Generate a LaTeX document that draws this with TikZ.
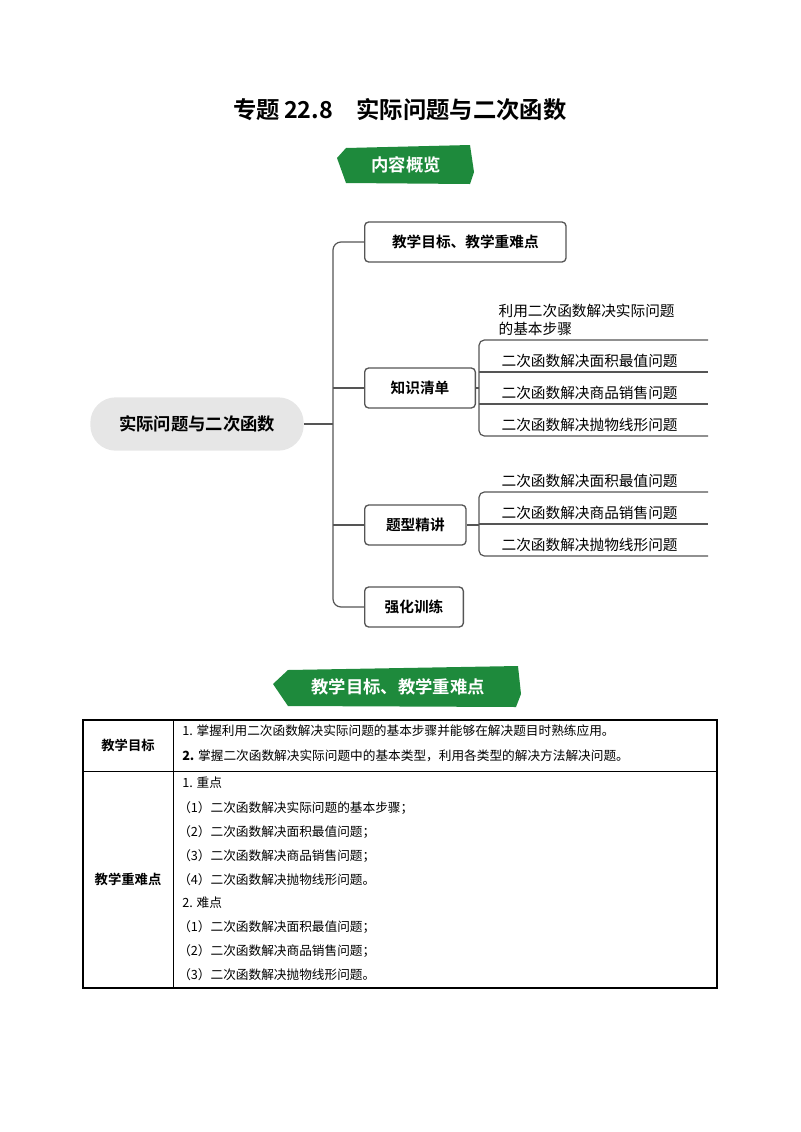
\documentclass[tikz,border=0pt]{standalone}
\usepackage{fontspec}
\setmainfont{Noto Sans CJK SC}
\newfontfamily\cjkb{Noto Sans CJK SC Bold}
\definecolor{bgreen}{HTML}{1E8A3C}
\definecolor{cgray}{HTML}{E6E6E6}
\definecolor{lgray}{HTML}{555555}
\begin{document}
\begin{tikzpicture}[x=0.75pt,y=-0.75pt,
  br/.style={draw=lgray,line width=1pt,rounded corners=3pt,minimum height=30pt,font=\cjkb\fontsize{11}{13}\selectfont,anchor=west,inner xsep=10pt},
  leaf/.style={font=\fontsize{11}{13}\selectfont,anchor=south west,inner sep=1pt},
  ln/.style={draw=lgray,line width=0.9pt},
  tx/.style={font=\fontsize{9.5}{11}\selectfont,anchor=west,inner sep=0pt},
  ban/.style={fill=bgreen},
  bt/.style={text=white,font=\cjkb\fontsize{13}{15}\selectfont}]
\useasboundingbox (0,0) rectangle (800,1132);
\node[font=\cjkb\fontsize{17.5}{20}\selectfont] (title) at (400,110) {专题\,22.8\quad 实际问题与二次函数};
% banner 1
\fill[ban] (346,148) -- (470,145) -- (474,172) -- (470,184) -- (346,183) -- (337,158) -- cycle;
\node[bt] (b1) at (406,165) {内容概览};
% mind map
\node[fill=cgray,rounded corners=19pt,minimum width=160pt,minimum height=40pt,font=\cjkb\fontsize{13}{15}\selectfont] (c) at (197,424) {实际问题与二次函数};
\node[br,minimum width=151pt] (m1) at (364,242) {教学目标、教学重难点};
\node[br,minimum width=83pt] (m2) at (364,388) {知识清单};
\node[br,minimum width=76pt] (m3) at (364,525) {题型精讲};
\node[br,minimum width=74pt] (m4) at (364,607) {强化训练};
\coordinate (j) at (333,424);
\draw[ln] (c.east) -- (j);
\draw[ln,rounded corners=6pt] (m1.west) -| (j) |- (m4.west);
\draw[ln] (333,388) -- (m2.west);
\draw[ln] (333,525) -- (m3.west);
% leaves of m2
\coordinate (k) at (479,388);
\draw[ln] (m2.east) -- (k);
\draw[ln,rounded corners=4pt] (708,340) -- (479,340) -- (479,436) -- (708,436);
\draw[ln] (479,372) -- (708,372);
\draw[ln] (479,404) -- (708,404);
\node[leaf,align=left,anchor=south west] (l1) at (497,337) {利用二次函数解决实际问题\\的基本步骤};
\node[leaf] (l2) at (500,369) {二次函数解决面积最值问题};
\node[leaf] (l3) at (500,401) {二次函数解决商品销售问题};
\node[leaf] (l4) at (500,433) {二次函数解决抛物线形问题};
% leaves of m3
\draw[ln] (m3.east) -- (479,525);
\draw[ln,rounded corners=4pt] (708,492) -- (479,492) -- (479,556) -- (708,556);
\draw[ln] (479,524) -- (708,524);
\node[leaf] (p1) at (500,489) {二次函数解决面积最值问题};
\node[leaf] (p2) at (500,521) {二次函数解决商品销售问题};
\node[leaf] (p3) at (500,553) {二次函数解决抛物线形问题};
% banner 2
\fill[ban] (288,670) -- (518,666) -- (521,694) -- (516,707) -- (288,706) -- (273,684) -- cycle;
\node[bt] (b2) at (398,687) {教学目标、教学重难点};
% table
\draw[line width=0.9pt] (83,720) rectangle (717,988);
\draw[line width=0.6pt] (173,720) -- (173,988) (83,771) -- (717,771);
\node[font=\cjkb\fontsize{10}{12}\selectfont] (h1) at (128,745) {教学目标};
\node[font=\cjkb\fontsize{10}{12}\selectfont] (h2) at (128,879) {教学重难点};
\node[tx] at (182,731) {1. 掌握利用二次函数解决实际问题的基本步骤并能够在解决题目时熟练应用。};
\node[tx] at (182,756) {\textbf{2.} 掌握二次函数解决实际问题中的基本类型，利用各类型的解决方法解决问题。};
\node[tx] at (182,783) {1. 重点};
\node[tx] at (178,808) {（1）二次函数解决实际问题的基本步骤；};
\node[tx] at (178,832) {（2）二次函数解决面积最值问题；};
\node[tx] at (178,856) {（3）二次函数解决商品销售问题；};
\node[tx] at (178,880) {（4）二次函数解决抛物线形问题。};
\node[tx] at (182,903) {2. 难点};
\node[tx] at (178,927) {（1）二次函数解决面积最值问题；};
\node[tx] at (178,951) {（2）二次函数解决商品销售问题；};
\node[tx] at (178,975) {（3）二次函数解决抛物线形问题。};
\end{tikzpicture}
\end{document}
